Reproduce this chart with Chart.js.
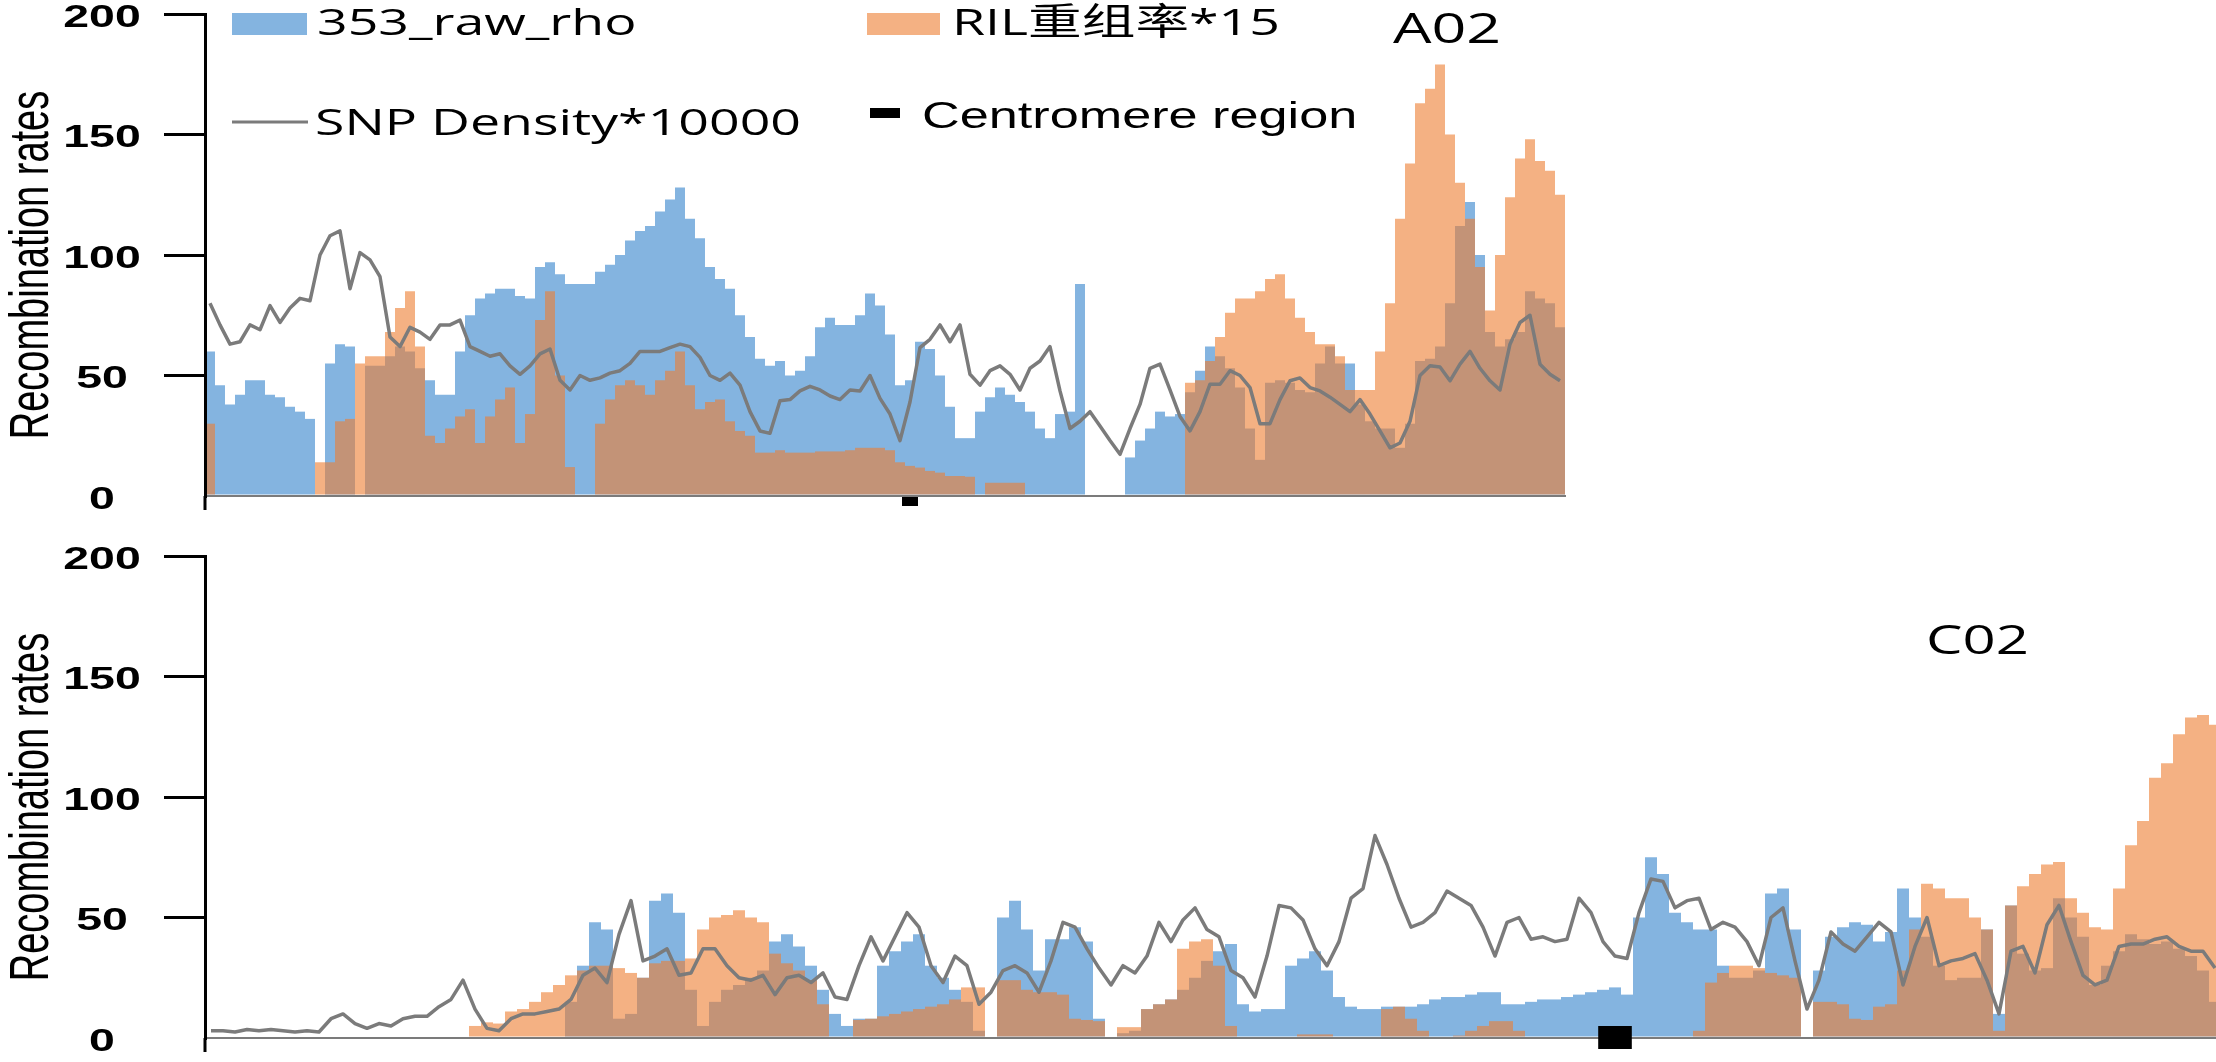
<!DOCTYPE html>
<html>
<head>
<meta charset="utf-8">
<script src="https://cdn.jsdelivr.net/npm/chart.js@4/dist/chart.umd.min.js"></script>
<style>
  html, body { margin: 0; padding: 0; background: #fff; overflow: hidden; }
  #wrap { position: relative; width: 2216px; height: 1062px; overflow: hidden; background: #fff; }
  #wrap canvas { position: absolute; left: 0; }
</style>
</head>
<body>
<div id="wrap">
  <canvas id="a02" width="2216" height="531" style="top:0;width:2216px;height:531px"></canvas>
  <canvas id="c02" width="2221" height="531" style="top:531px;width:2221px;height:531px"></canvas>
</div>
<script>
// ---- series names and axis text ----
const seriesNames = ['353_raw_rho', 'RIL重组率*15', 'SNP Density*10000'];
const centromereName = 'Centromere region';
const yTitle = 'Recombination rates';
const yTickValues = [0, 50, 100, 150, 200];
const yTickLabels = ['0', '50', '100', '150', '200'];

// ---- A02: one value per window along the chromosome ----
const a02Rho = [60,46,38,42,48,48,42,41,37,35,
  32,0,55,63,62,0,54,54,58,62,
  60,53,48,42,42,60,75,82,84,86,
  86,83,82,95,97,92,88,88,88,93,
  96,100,106,110,112,118,123,128,115,107,
  95,90,86,75,66,57,54,56,50,52,
  58,70,74,71,71,75,84,79,67,46,
  48,64,61,50,37,24,24,35,41,45,
  42,39,35,28,24,34,35,88,0,0,
  0,0,16,23,28,35,33,34,43,52,
  62,58,53,45,28,15,47,48,47,44,
  43,55,62,55,55,38,31,28,28,20,
  30,56,57,62,80,112,122,100,68,62,
  65,68,85,82,80,70];
const a02Ril = [30,0,0,0,0,0,0,0,0,0,
  0,14,14,31,32,55,58,58,68,78,
  85,62,25,22,28,33,36,22,33,40,
  45,22,34,73,85,50,12,0,0,30,
  40,46,48,46,42,48,52,60,46,36,
  39,40,31,27,25,18,18,19,18,18,
  18,18.5,18.5,18.5,19,20,20,20,19,14,
  12.5,11.8,10.4,9.7,8.3,8.3,8,0,5.5,5.5,
  5.5,5.5,0,0,0,0,0,0,0,0,
  0,0,0,0,0,0,0,0,47,48,
  56,66,76,82,82,85,90,92,82,74,
  68,63,63,58,44,44,44,60,80,115,
  138,163,169,179,150,130,115,95,77,100,
  124,140,148,139,135,125];
const a02Snp = [80,71,63,64,71,69,79,72,78,82,
  81,100,108,110,86,101,98,91,66,62,
  70,68,65,71,71,73,62,60,58,59,
  54,50.5,54,59,61,48,44,50,48,49,
  51,52,55,60,60,60,61.6,63,62,57.5,
  50,48,51,46,35,27,26,39.5,40,43.6,
  45.5,44,41.5,40,44,43.6,50,40.5,34,23,
  39,61.6,65,71,64,71,50.5,46,52,54,
  50.5,44,53,56,62,43.6,28,31,35,29,
  23,17.3,28,38,53,54.7,44,33,27,35,
  46.4,46.4,52,50,45,30,30,40,47.8,49,
  45,43.6,41,38,35,40,34,27,20,22,
  31,50,54,53.5,47.8,54.7,60,53,47.8,44,
  63,72,75,54.7,50.5,47.8];
const a02Centromere = [69.7, 71.3];   // window span

// ---- C02 ----
const c02Rho = [0,0,0,0,0,0,0,0,0,0,
  0,0,0,0,0,0,0,0,0,0,
  0,0,0,0,0,0,0,0,0,0,
  15,30,48,45,8,10,25,57,60,52,
  20,5,15,20,22,25,28,40,43,38,
  30,20,10,5,8,8,30,36,40,43,
  30,25,20,15,3,0,50,57,45,28,
  41,41,46,40,8,0,2,3,12,14,
  16,20,25,32,36,39,14,11,12,12,
  30,33,36,28,17,13,12,12,13,13,
  13,14,16,17,17,18,19,19,14,14,
  15,16,16,17,18,19,20,21,18,50,
  75,68,52,48,45,45,30,25,25,28,
  60,62,45,0,28,42,46,48,47,40,
  44,62,50,42,30,24,25,25,45,10,
  55,35,28,29,58,50,42,22,30,36,
  43,41,39,40,37,34,28,15];
const c02Ril = [0,0,0,0,0,0,0,0,0,0,
  0,0,0,0,0,0,0,0,0,0,
  0,0,5,6.5,6,11,12,15,19,22,
  26,28,30,30,29,27,25,31,32,32,
  33,45,50,51,53,50,48,35,31,28,
  24,14,0,0,7.5,8,9,10,11,12,
  13,14,16,21,21,0,24,24,20,19,
  19,18,8,7.5,7,0,4.5,4.5,12,14,
  16,37,40,41,30,5,0,0,0,0,
  0,1.5,1.5,1.5,0,0,0,0,12,13,
  8,3,0,0,1,3,5,7,7,3,
  0,0,0,0,0,0,0,0,0,0,
  0,0,0,0,3,23,27,30,30,29,
  27,26,25,0,15,15,14,8,7.5,13,
  14,28,45,64,62,58,58,50,45,3,
  55,63,68,72,73,58,52,46,45,62,
  80,90,108,114,126,133,134,130];
const c02Snp = [3,3,2.5,3.5,3,3.5,3,2.5,3,2.5,
  8,10,6,4,6,5,8,9,9,13,
  16,24,12,4,3,8,10,10,11,12,
  16,26,29,23,43,57,32,34,37,26,
  27,37,37,30,25,24,26,18,25,26,
  23,27,17,16,30,42,32,42,52,46,
  30,23,34,30,14,19,28,30,27,19,
  32,48,46,37,29,22,30,27,34,48,
  40,49,54,45,42,28,25,17,34,55,
  54,49,37,30,40,58,62,84,72,58,
  46,48,52,61,58,55,46,34,48,50,
  41,42,40,41,58,52,40,34,33,52,
  66,65,54,57,58,45,48,46,40,30,
  50,54,32,12,24,44,39,36,42,48,
  44,22,38,50,30,32,33,35,24,10,
  36,38,27,47,55,40,26,22,24,38,
  39,39,41,42,38,36,36,29];
const c02Centromere = [116.1, 118.9];

// ---- styling ----
const BLUE = 'rgba(91,155,213,0.75)';
const ORANGE = 'rgba(237,125,49,0.6)';
const GREY = '#7b7b7b';
const STRETCH = 1.45;   // text in this figure is set wide
const LEGEND_FONT = '37px "Open Sans", "Noto Sans CJK SC", sans-serif';

function wideText(ctx, text, x, y, font, align, baseline) {
  ctx.save();
  ctx.font = font;
  ctx.fillStyle = '#000';
  ctx.textAlign = align || 'left';
  ctx.textBaseline = baseline || 'alphabetic';
  ctx.translate(x, y);
  ctx.scale(STRETCH, 1);
  ctx.fillText(text, 0, 0);
  ctx.restore();
}

const decor = {
  id: 'decor',
  afterDraw(chart, args, o) {
    const ctx = chart.ctx, ca = chart.chartArea;
    const xs = chart.scales.x, ys = chart.scales.y;
    ctx.save();
    // value axis runs a little past the baseline
    ctx.fillStyle = '#000';
    ctx.fillRect(ca.left - 1.5, ca.bottom, 3, o.axisTail);
    // tick labels
    yTickValues.forEach((v, i) => {
      wideText(ctx, yTickLabels[i], 102, ys.getPixelForValue(v) + 4,
        'bold 32px "Liberation Sans", Arial, sans-serif', 'center', 'middle');
    });
    // centromere block under the axis
    const step = xs.getPixelForValue(1) - xs.getPixelForValue(0);
    const x0 = ca.left + o.centromere[0] * step;
    const x1 = ca.left + o.centromere[1] * step;
    ctx.fillStyle = '#000';
    ctx.fillRect(x0, ca.bottom + o.cenBox[0], x1 - x0, o.cenBox[1] - o.cenBox[0]);
    // axis title
    ctx.save();
    ctx.translate(48, o.titleY);
    ctx.scale(STRETCH, 1);
    ctx.rotate(-Math.PI / 2);
    ctx.font = '38px "Liberation Sans", Arial, sans-serif';
    ctx.textAlign = 'center';
    ctx.textBaseline = 'alphabetic';
    ctx.fillStyle = '#000';
    ctx.fillText(yTitle, 0, 0);
    ctx.restore();
    // chromosome name
    wideText(ctx, o.name, o.nameX, o.nameY, o.nameFont);
    // legend
    if (o.legend) {
      const ds = chart.data.datasets;
      ctx.fillStyle = ds[0].backgroundColor;
      ctx.fillRect(232, 13, 75, 22);
      wideText(ctx, ds[0].label, 317, 35, LEGEND_FONT);
      ctx.fillStyle = ds[1].backgroundColor;
      ctx.fillRect(867, 13, 73, 22);
      wideText(ctx, ds[1].label, 952, 35, LEGEND_FONT);
      ctx.strokeStyle = ds[2].borderColor;
      ctx.lineWidth = 3;
      ctx.beginPath(); ctx.moveTo(232, 122); ctx.lineTo(308, 122); ctx.stroke();
      wideText(ctx, ds[2].label, 315, 135, LEGEND_FONT);
      ctx.fillStyle = '#000';
      ctx.fillRect(870, 108, 30, 10);
      wideText(ctx, centromereName, 922, 128, '36px "Liberation Sans", Arial, sans-serif');
    }
    ctx.restore();
  }
};

function makePanel(id, rho, ril, snp, geo, deco) {
  const labels = rho.map((_, i) => String(i));
  return new Chart(document.getElementById(id), {
    type: 'bar',
    data: {
      labels,
      datasets: [
        { label: seriesNames[0], data: rho, backgroundColor: BLUE, borderWidth: 0,
          barPercentage: 1, categoryPercentage: 1, grouped: false, inflateAmount: 0, order: 2 },
        { label: seriesNames[1], data: ril, backgroundColor: ORANGE, borderWidth: 0,
          barPercentage: 1, categoryPercentage: 1, grouped: false, inflateAmount: 0, order: 1 },
        { type: 'line', label: seriesNames[2], data: snp, borderColor: GREY, borderWidth: 3.5,
          pointRadius: 0, tension: 0, fill: false, borderJoinStyle: 'round', order: 0 }
      ]
    },
    options: {
      responsive: false,
      animation: false,
      devicePixelRatio: 1,
      events: [],
      layout: { padding: { left: 0, right: geo.padRight, top: geo.top, bottom: 0 } },
      plugins: { legend: { display: false }, tooltip: { enabled: false }, decor: deco },
      scales: {
        x: {
          type: 'category', offset: true,
          grid: { display: false },
          border: { display: true, color: GREY, width: 2, z: 1 },
          ticks: { display: false },
          afterFit: s => { s.height = geo.xHeight; }
        },
        y: {
          min: 0, max: 200,
          ticks: { display: false, stepSize: 50 },
          grid: {
            drawOnChartArea: false, drawTicks: true, tickLength: 41, lineWidth: 3,
            color: c => (c.tick && c.tick.value === 0) ? 'rgba(0,0,0,0)' : '#000'
          },
          border: { display: true, color: '#000', width: 3, z: 1 },
          afterFit: s => { s.width = 205; }
        }
      }
    },
    plugins: [decor]
  });
}

makePanel('a02', a02Rho, a02Ril, a02Snp,
  { padRight: 651, top: 14, xHeight: 35 },
  { name: 'A02', nameX: 1393, nameY: 43, nameFont: '42px "Open Sans", sans-serif',
    centromere: a02Centromere, cenBox: [1, 10], axisTail: 14, titleY: 265, legend: true });

makePanel('c02', c02Rho, c02Ril, c02Snp,
  { padRight: 0, top: 25, xHeight: 24 },
  { name: 'C02', nameX: 1926, nameY: 123, nameFont: '40px "Open Sans", sans-serif',
    centromere: c02Centromere, cenBox: [-12, 11], axisTail: 14, titleY: 276, legend: false });
</script>
</body>
</html>
